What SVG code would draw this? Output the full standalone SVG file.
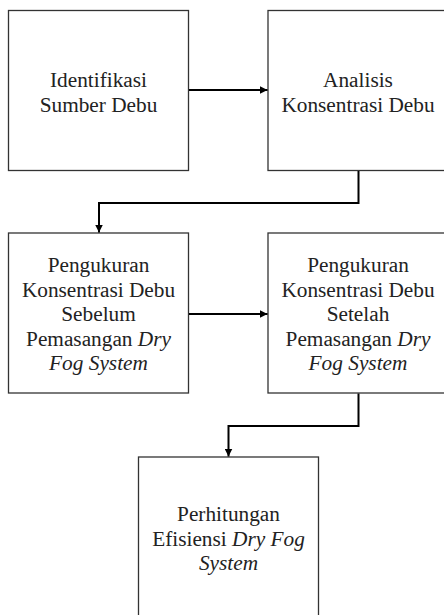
<svg xmlns="http://www.w3.org/2000/svg" width="444" height="615" viewBox="0 0 444 615">
<defs>
<marker id="ah" viewBox="0 0 10 10" refX="10" refY="5" markerWidth="4" markerHeight="4" orient="auto" markerUnits="strokeWidth">
<path d="M0,0 L10,5 L0,10 z" fill="#000"/>
</marker>
<style>
.box{fill:#fff;stroke:#333;stroke-width:1.3}
.t{font-family:'Liberation Serif','DejaVu Serif',serif;font-size:21.3px;fill:#222;text-anchor:middle}
.i{font-style:italic}
.c{fill:none;stroke:#000;stroke-width:2;marker-end:url(#ah)}
</style>
</defs>
<rect width="444" height="615" fill="#fff"/>
<g id="n1">
<rect class="box" x="8.5" y="10.5" width="180" height="160"/>
<text class="t" x="98.5" y="87">Identifikasi</text>
<text class="t" x="98.5" y="111.5">Sumber Debu</text>
</g>
<g id="n2">
<rect class="box" x="268" y="10.5" width="180" height="160"/>
<text class="t" x="358" y="87">Analisis</text>
<text class="t" x="358" y="111.5">Konsentrasi Debu</text>
</g>
<g id="n3">
<rect class="box" x="8.5" y="233" width="180" height="160"/>
<text class="t" x="98.5" y="272">Pengukuran</text>
<text class="t" x="98.5" y="296.5">Konsentrasi Debu</text>
<text class="t" x="98.5" y="321">Sebelum</text>
<text class="t" x="98.5" y="345.5">Pemasangan <tspan class="i">Dry</tspan></text>
<text class="t i" x="98.5" y="370">Fog System</text>
</g>
<g id="n4">
<rect class="box" x="268" y="233" width="180" height="160"/>
<text class="t" x="358" y="272">Pengukuran</text>
<text class="t" x="358" y="296.5">Konsentrasi Debu</text>
<text class="t" x="358" y="321">Setelah</text>
<text class="t" x="358" y="345.5">Pemasangan <tspan class="i">Dry</tspan></text>
<text class="t i" x="358" y="370">Fog System</text>
</g>
<g id="n5">
<rect class="box" x="138.5" y="457" width="180" height="162"/>
<text class="t" x="228.5" y="521">Perhitungan</text>
<text class="t" x="228.5" y="545.5">Efisiensi <tspan class="i">Dry Fog</tspan></text>
<text class="t i" x="228.5" y="570">System</text>
</g>
<g id="connectors">
<path class="c" d="M189,90 H267.5"/>
<path class="c" d="M358.5,171 V203 H99 V232.5"/>
<path class="c" d="M189,314 H267.5"/>
<path class="c" d="M358.5,393.5 V426 H228.5 V456.5"/>
</g>
</svg>
